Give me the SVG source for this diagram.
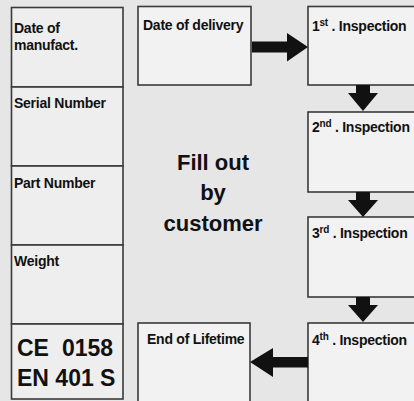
<svg xmlns="http://www.w3.org/2000/svg" width="414" height="401" viewBox="0 0 414 401">
<style>
.box{fill:#f2f2f2;stroke:#3a3a3a;stroke-width:1.6}
.cell{fill:#eeeeee;stroke:#3a3a3a;stroke-width:1.6}
.lbl{font-family:"Liberation Sans",Arial,sans-serif;font-weight:bold;font-size:14px;fill:#111;letter-spacing:-0.25px}
.sup{font-size:10px}
.big{font-family:"Liberation Sans",Arial,sans-serif;font-weight:bold;font-size:22px;fill:#111;text-anchor:middle}
.ce{font-family:"Liberation Sans",Arial,sans-serif;font-weight:bold;font-size:23px;fill:#111}
.arr{fill:#111}
</style>
<rect x="0" y="0" width="414" height="401" fill="#e6e6e6"/>
<g id="left-panel">
  <g id="cell-date-manufact">
    <rect class="cell" x="11.5" y="7.5" width="111.5" height="79.5"/>
    <text class="lbl" x="14" y="33">Date of</text>
    <text class="lbl" x="14" y="50">manufact.</text>
  </g>
  <g id="cell-serial">
    <rect class="cell" x="11.5" y="87" width="111.5" height="79"/>
    <text class="lbl" x="14" y="108">Serial Number</text>
  </g>
  <g id="cell-part">
    <rect class="cell" x="11.5" y="166" width="111.5" height="79"/>
    <text class="lbl" x="14" y="188">Part Number</text>
  </g>
  <g id="cell-weight">
    <rect class="cell" x="11.5" y="245" width="111.5" height="79"/>
    <text class="lbl" x="14" y="266">Weight</text>
  </g>
  <g id="cell-ce">
    <rect class="cell" x="11.5" y="324" width="111.5" height="75"/>
    <text class="ce" x="17" y="356">CE <tspan x="62">0158</tspan></text>
    <text class="ce" x="17" y="386">EN 401 S</text>
  </g>
</g>
<g id="fill-out-note">
  <text class="big" x="213" y="170">Fill out</text>
  <text class="big" x="213" y="200">by</text>
  <text class="big" x="213" y="231">customer</text>
</g>
<g id="node-delivery">
  <rect class="box" x="138" y="6.5" width="113" height="78.5"/>
  <text class="lbl" x="143" y="30">Date of delivery</text>
</g>
<g id="node-insp1">
  <rect class="box" x="308" y="6.5" width="120" height="78.5"/>
  <text class="lbl" x="312" y="31">1<tspan class="sup" dy="-5">st</tspan><tspan dy="5"> . Inspection</tspan></text>
</g>
<g id="node-insp2">
  <rect class="box" x="308" y="112" width="120" height="80"/>
  <text class="lbl" x="312" y="132">2<tspan class="sup" dy="-5">nd</tspan><tspan dy="5"> . Inspection</tspan></text>
</g>
<g id="node-insp3">
  <rect class="box" x="308" y="217" width="120" height="80"/>
  <text class="lbl" x="312" y="238">3<tspan class="sup" dy="-5">rd</tspan><tspan dy="5"> . Inspection</tspan></text>
</g>
<g id="node-insp4">
  <rect class="box" x="308" y="323" width="120" height="90"/>
  <text class="lbl" x="312" y="345">4<tspan class="sup" dy="-5">th</tspan><tspan dy="5"> . Inspection</tspan></text>
</g>
<g id="node-end">
  <rect class="box" x="138" y="323" width="112" height="90"/>
  <text class="lbl" x="147" y="344">End of Lifetime</text>
</g>
<g id="connectors">
  <polygon class="arr" points="252,41.5 287,41.5 287,33 308,47 287,61.5 287,52.5 252,52.5"/>
  <polygon class="arr" points="356,85 370,85 370,93 378,93 363,111 348,93 356,93"/>
  <polygon class="arr" points="356,192 370,192 370,200 378,200 363,217 348,200 356,200"/>
  <polygon class="arr" points="356,297 370,297 370,305 378,305 363,322 348,305 356,305"/>
  <polygon class="arr" points="308,357 273,357 273,348 250,362 273,377 273,367.5 308,367.5"/>
</g>
</svg>
